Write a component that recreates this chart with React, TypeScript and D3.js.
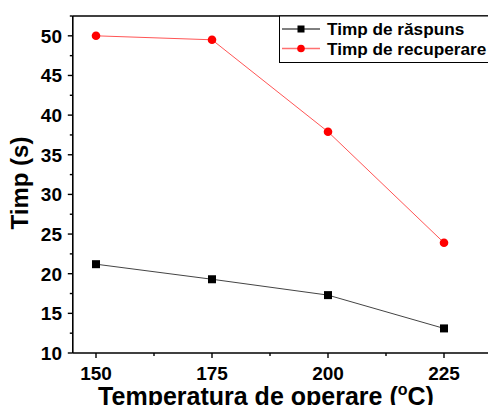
import * as d3 from "d3";
import { useEffect, useRef } from "react";

const temps = [150, 175, 200, 225];
const raspuns = [21.2, 19.3, 17.3, 13.1];
const recuperare = [50.0, 49.5, 37.9, 23.9];
const xTicks = [150, 175, 200, 225];
const yTicks = [10, 15, 20, 25, 30, 35, 40, 45, 50];

const W = 488;
const H = 405;
const FONT = "'Liberation Sans', Arial, sans-serif";

const drawChart = (el: SVGSVGElement) => {
  const svg = d3.select(el);
  svg.selectAll("*").remove();

  const x = d3.scaleLinear().domain([145, 235]).range([72.8, 490.4]);
  const y = d3.scaleLinear().domain([10, 52.5]).range([353, 16]);

  const g = svg.append("g").attr("font-family", FONT).attr("font-weight", "bold");

  // frame: top border
  g.append("line")
    .attr("x1", x(145)).attr("x2", W + 5)
    .attr("y1", y(52.5)).attr("y2", y(52.5))
    .attr("stroke", "#000").attr("stroke-width", 1.6);

  // x axis
  const xMinor = d3.range(162.5, 235, 25);
  g.append("line")
    .attr("x1", x(145)).attr("x2", W + 5)
    .attr("y1", y(10)).attr("y2", y(10))
    .attr("stroke", "#000").attr("stroke-width", 1.6);
  g.selectAll(".xt")
    .data(xTicks)
    .join("line")
    .attr("x1", (d) => x(d)).attr("x2", (d) => x(d))
    .attr("y1", y(10)).attr("y2", y(10) + 5)
    .attr("stroke", "#000").attr("stroke-width", 1.4);
  g.selectAll(".xm")
    .data(xMinor)
    .join("line")
    .attr("x1", (d) => x(d)).attr("x2", (d) => x(d))
    .attr("y1", y(10)).attr("y2", y(10) + 3)
    .attr("stroke", "#000").attr("stroke-width", 1.4);
  g.selectAll(".xl")
    .data(xTicks)
    .join("text")
    .attr("x", (d) => x(d))
    .attr("y", 380)
    .attr("text-anchor", "middle")
    .attr("font-size", 19)
    .text((d) => d);

  // y axis
  const yMinor = d3.range(12.5, 53, 5);
  g.append("line")
    .attr("x1", x(145)).attr("x2", x(145))
    .attr("y1", y(10)).attr("y2", y(52.5))
    .attr("stroke", "#000").attr("stroke-width", 1.6);
  g.selectAll(".yt")
    .data(yTicks)
    .join("line")
    .attr("x1", x(145) - 5).attr("x2", x(145))
    .attr("y1", (d) => y(d)).attr("y2", (d) => y(d))
    .attr("stroke", "#000").attr("stroke-width", 1.4);
  g.selectAll(".ym")
    .data(yMinor)
    .join("line")
    .attr("x1", x(145) - 3).attr("x2", x(145))
    .attr("y1", (d) => y(d)).attr("y2", (d) => y(d))
    .attr("stroke", "#000").attr("stroke-width", 1.4);
  g.selectAll(".yl")
    .data(yTicks)
    .join("text")
    .attr("x", 62)
    .attr("y", (d) => y(d))
    .attr("dy", "0.36em")
    .attr("text-anchor", "end")
    .attr("font-size", 19)
    .text((d) => d);

  // titles
  g.append("text")
    .attr("transform", "translate(28,183) rotate(-90)")
    .attr("text-anchor", "middle")
    .attr("font-size", 24)
    .text("Timp (s)");

  const xt = g.append("text")
    .attr("x", 266)
    .attr("y", 405)
    .attr("text-anchor", "middle")
    .attr("font-size", 25);
  xt.append("tspan").text("Temperatura de operare (");
  xt.append("tspan").attr("font-size", 16).attr("dy", -10).text("o");
  xt.append("tspan").attr("dy", 10).text("C)");

  // series
  const line = d3.line<number>().x((_, i) => x(temps[i])).y((d) => y(d));

  g.append("path")
    .datum(raspuns)
    .attr("fill", "none")
    .attr("stroke", "#444")
    .attr("stroke-width", 1)
    .attr("d", line);
  g.selectAll(".sq")
    .data(raspuns)
    .join("rect")
    .attr("x", (d, i) => x(temps[i]) - 4)
    .attr("y", (d) => y(d) - 4)
    .attr("width", 8).attr("height", 8)
    .attr("fill", "#000");

  g.append("path")
    .datum(recuperare)
    .attr("fill", "none")
    .attr("stroke", "#ff5555")
    .attr("stroke-width", 1)
    .attr("d", line);
  g.selectAll(".ci")
    .data(recuperare)
    .join("circle")
    .attr("cx", (d, i) => x(temps[i]))
    .attr("cy", (d) => y(d))
    .attr("r", 4.3)
    .attr("fill", "#ff0000");

  // legend
  const lg = g.append("g");
  lg.append("rect")
    .attr("x", 279.5).attr("y", 16)
    .attr("width", 220).attr("height", 46.5)
    .attr("fill", "#fff")
    .attr("stroke", "#000").attr("stroke-width", 1);
  const items = [
    { label: "Timp de răspuns", color: "#000", lineColor: "#000", shape: "sq" },
    { label: "Timp de recuperare", color: "#ff0000", lineColor: "#ff7070", shape: "ci" },
  ];
  items.forEach((it, i) => {
    const cy = 29 + i * 19.5;
    lg.append("line")
      .attr("x1", 282).attr("x2", 320)
      .attr("y1", cy).attr("y2", cy)
      .attr("stroke", it.lineColor).attr("stroke-width", i === 1 ? 1.5 : 1);
    if (it.shape === "sq") {
      lg.append("rect")
        .attr("x", 297.5).attr("y", cy - 3.5)
        .attr("width", 7).attr("height", 7)
        .attr("fill", it.color);
    } else {
      lg.append("circle")
        .attr("cx", 301).attr("cy", cy).attr("r", 3.8)
        .attr("fill", it.color);
    }
    lg.append("text")
      .attr("x", 327)
      .attr("y", cy + 6)
      .attr("font-size", 17.2)
      .text(it.label);
  });
};

export default function App() {
  const ref = useRef<SVGSVGElement>(null);

  useEffect(() => {
    if (ref.current) drawChart(ref.current);
  }, []);

  return (
    <svg
      ref={ref}
      width={W}
      height={H}
      style={{ position: "fixed", left: 0, top: 0, background: "#fff" }}
    />
  );
}
